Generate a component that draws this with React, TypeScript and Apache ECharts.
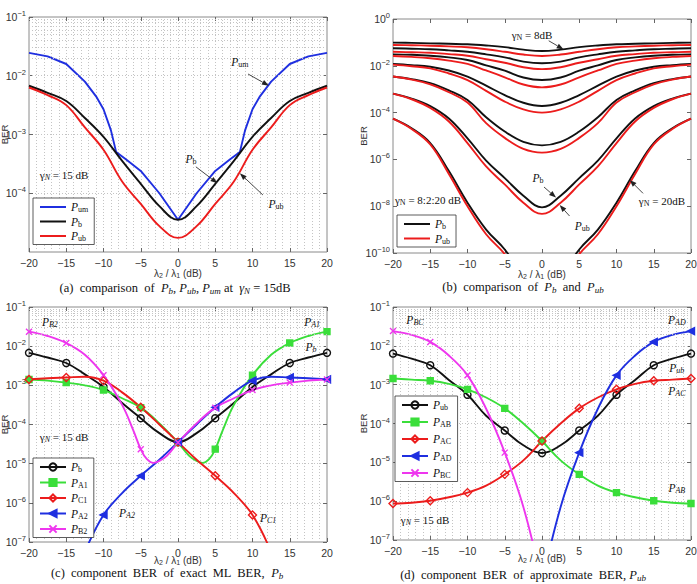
import React, { useEffect, useRef } from "react";
import * as echarts from "echarts";

// λ2/λ1 sample points in dB
const X_DB = [-20, -17.5, -15, -12.5, -10, -7.5, -5, -2.5, 0, 2.5, 5, 7.5, 10, 12.5, 15, 17.5, 20];

// All BER values below are given as log10(BER)

// (a) γN = 15 dB
const LOG_PB = [-2.17, -2.29, -2.43, -2.72, -3.04, -3.45, -3.84, -4.22, -4.45, -4.22, -3.84, -3.45, -3.04, -2.72, -2.43, -2.29, -2.17];
const LOG_PUB = [-2.2, -2.33, -2.5, -2.88, -3.26, -3.8, -4.18, -4.56, -4.76, -4.56, -4.18, -3.8, -3.26, -2.88, -2.5, -2.33, -2.2];
const X_UM = [-20, -17.5, -15, -12.5, -11, -10, -9, -8.3, -7, -5, -2.5, 0, 2.5, 5, 7, 8.3, 9, 10, 11, 12.5, 15, 17.5, 20];
const LOG_PUM = [-1.61, -1.67, -1.8, -2.1, -2.35, -2.57, -2.93, -3.3, -3.42, -3.62, -4.0, -4.45, -4.0, -3.62, -3.42, -3.3, -2.93, -2.57, -2.35, -2.1, -1.8, -1.67, -1.61];

// (b) γN = 8:2:20 dB, exact (Pb) and union bound (Pub)
const SNR_DB = [8, 10, 12, 14, 16, 18, 20];
const LOG_B_PB = [
  [-1.01, -1.02, -1.04, -1.06, -1.08, -1.13, -1.2, -1.31, -1.37, -1.31, -1.2, -1.13, -1.08, -1.06, -1.04, -1.02, -1.01],
  [-1.25, -1.27, -1.29, -1.34, -1.4, -1.51, -1.64, -1.82, -1.89, -1.82, -1.64, -1.51, -1.4, -1.34, -1.29, -1.27, -1.25],
  [-1.51, -1.53, -1.57, -1.64, -1.75, -1.98, -2.21, -2.5, -2.61, -2.5, -2.21, -1.98, -1.75, -1.64, -1.57, -1.53, -1.51],
  [-1.92, -1.97, -2.04, -2.2, -2.46, -2.85, -3.25, -3.58, -3.72, -3.58, -3.25, -2.85, -2.46, -2.2, -2.04, -1.97, -1.92],
  [-2.46, -2.57, -2.74, -3.05, -3.46, -4.2, -4.81, -5.25, -5.4, -5.25, -4.81, -4.2, -3.46, -3.05, -2.74, -2.57, -2.46],
  [-3.19, -3.4, -3.72, -4.25, -5.1, -6.05, -6.8, -7.55, -8.05, -7.55, -6.8, -6.05, -5.1, -4.25, -3.72, -3.4, -3.19],
  [-4.26, -4.67, -5.3, -6.5, -7.85, -9.0, -9.85, -11.0, -12.0, -11.0, -9.85, -9.0, -7.85, -6.5, -5.3, -4.67, -4.26],
];
const LOG_B_PUB = [
  [-1.11, -1.12, -1.14, -1.17, -1.21, -1.29, -1.4, -1.52, -1.58, -1.52, -1.4, -1.29, -1.21, -1.17, -1.14, -1.12, -1.11],
  [-1.4, -1.42, -1.44, -1.5, -1.57, -1.72, -1.87, -2.06, -2.14, -2.06, -1.87, -1.72, -1.57, -1.5, -1.44, -1.42, -1.4],
  [-1.58, -1.62, -1.68, -1.78, -1.92, -2.2, -2.49, -2.8, -2.92, -2.8, -2.49, -2.2, -1.92, -1.78, -1.68, -1.62, -1.58],
  [-1.95, -2.02, -2.11, -2.33, -2.61, -3.07, -3.53, -3.86, -4.0, -3.86, -3.53, -3.07, -2.61, -2.33, -2.11, -2.02, -1.95],
  [-2.46, -2.59, -2.79, -3.13, -3.57, -4.45, -5.08, -5.55, -5.71, -5.55, -5.08, -4.45, -3.57, -3.13, -2.79, -2.59, -2.46],
  [-3.19, -3.43, -3.8, -4.38, -5.3, -6.3, -7.07, -7.85, -8.33, -7.85, -7.07, -6.3, -5.3, -4.38, -3.8, -3.43, -3.19],
  [-4.26, -4.7, -5.36, -6.62, -8.0, -9.2, -10.05, -11.2, -12.2, -11.2, -10.05, -9.2, -8.0, -6.62, -5.36, -4.7, -4.26],
];

// (c) components of the exact ML BER
const X_A1 = [-20, -17.5, -15, -12.5, -10, -7.5, -5, -2.5, 0, 1.5, 2.5, 3.3, 4.2, 5, 6, 7.5, 10, 12.5, 15, 17.5, 20];
const LOG_PA1 = [-2.85, -2.88, -2.93, -3.0, -3.12, -3.33, -3.57, -3.97, -4.46, -4.8, -4.93, -4.98, -4.88, -4.63, -4.15, -3.5, -2.74, -2.22, -1.92, -1.74, -1.63];
const X_B2 = [-20, -17.5, -15, -12.5, -10, -7.5, -6, -5, -4.2, -3.3, -2.5, -1.5, 0, 2.5, 5, 7.5, 10, 12.5, 15, 17.5, 20];
const LOG_PB2 = [-1.63, -1.74, -1.92, -2.22, -2.74, -3.5, -4.15, -4.63, -4.88, -4.98, -4.93, -4.8, -4.46, -3.97, -3.57, -3.33, -3.12, -3.0, -2.93, -2.88, -2.85];
const LOG_PC1 = [-2.85, -2.82, -2.8, -2.78, -2.88, -3.18, -3.56, -4.0, -4.45, -4.9, -5.31, -5.75, -6.31, -7.25, -8.5, -10.0, -11.5];
const LOG_PA2 = [-11.5, -10.0, -8.5, -7.25, -6.31, -5.75, -5.31, -4.9, -4.45, -4.0, -3.56, -3.18, -2.88, -2.78, -2.8, -2.82, -2.85];

// (d) components of the approximate BER
const LOG_PAB = [-2.84, -2.87, -2.9, -2.98, -3.12, -3.33, -3.61, -4.0, -4.45, -4.95, -5.31, -5.6, -5.78, -5.9, -5.99, -6.04, -6.06];
const LOG_PAC = [-6.06, -6.04, -5.99, -5.9, -5.78, -5.6, -5.31, -4.95, -4.45, -4.0, -3.61, -3.33, -3.12, -2.98, -2.9, -2.87, -2.84];
const X_AD = [-2.5, 0, 2.5, 5, 7.5, 10, 12.5, 15, 17.5, 20];
const LOG_PAD = [-10.5, -8.1, -6.15, -4.75, -3.62, -2.76, -2.25, -1.9, -1.72, -1.62];
const X_BC = [-20, -17.5, -15, -12.5, -10, -7.5, -5, -2.5, 0, 2.5];
const LOG_PBC = [-1.62, -1.72, -1.9, -2.25, -2.76, -3.62, -4.75, -6.15, -8.1, -10.5];

// y-axis decades (log10) per panel and the labelled decades
const Y_RANGE: [number, number][] = [[-5, -1], [-10, 0], [-7, -1], [-7, -1]];
const Y_LABEL_EXP = [[-4, -3, -2, -1], [-10, -8, -6, -4, -2, 0], [-7, -6, -5, -4, -3, -2, -1], [-7, -6, -5, -4, -3, -2, -1]];

const SERIF = "'Liberation Serif', 'DejaVu Serif', serif";
const SANS = "'Liberation Sans', Arial, Helvetica, sans-serif";

const BLUE = "#1f2fe0";
const RED = "#ec1c1c";
const BLACK = "#111111";
const GREEN = "#3ade3a";
const MAGENTA = "#ee36ee";

const GRIDS = [
  { left: 29, top: 17, width: 298, height: 235 },
  { left: 393, top: 19, width: 298, height: 234 },
  { left: 29, top: 307, width: 298, height: 235 },
  { left: 393, top: 307, width: 298, height: 233 },
];

const RICH: Record<string, any> = {
  p: { fontFamily: SERIF, fontStyle: "italic", fontSize: 11.5, color: "#111" },
  s: { fontFamily: SERIF, fontSize: 8, color: "#111", padding: [5, 0, 0, 0] },
  si: { fontFamily: SERIF, fontStyle: "italic", fontSize: 8, color: "#111", padding: [5, 0, 0, 0] },
  t: { fontFamily: SERIF, fontSize: 11, color: "#111" },
  g: { fontFamily: SERIF, fontSize: 11, color: "#111" },
  c: { fontFamily: SERIF, fontSize: 12.5, color: "#111" },
  cp: { fontFamily: SERIF, fontStyle: "italic", fontSize: 12.5, color: "#111" },
  cs: { fontFamily: SERIF, fontStyle: "italic", fontSize: 9, color: "#111", padding: [6, 0, 0, 0] },
};

const LEGEND_TEXT: Record<string, string> = {
  a_um: "{p|P}{s|um}", a_b: "{p|P}{s|b}", a_ub: "{p|P}{s|ub}",
  b_b: "{p|P}{s|b}", b_ub: "{p|P}{s|ub}",
  c_b: "{p|P}{s|b}", c_a1: "{p|P}{s|A1}", c_c1: "{p|P}{s|C1}", c_a2: "{p|P}{s|A2}", c_b2: "{p|P}{s|B2}",
  d_ub: "{p|P}{s|ub}", d_ab: "{p|P}{s|AB}", d_ac: "{p|P}{s|AC}", d_ad: "{p|P}{s|AD}", d_bc: "{p|P}{s|BC}",
};

type Marker = { symbol: string; size: number; rotate?: number; fill: boolean };

function curve(name: string, g: number, xs: number[], logs: number[], color: string, mk?: Marker, smooth: number | boolean = 0.4) {
  const data = xs.map((x, i) => {
    const pt: any = { value: [x, Math.pow(10, logs[i])] };
    if (mk && x % 5 !== 0) pt.symbol = "none";
    return pt;
  });
  return {
    type: "line",
    name,
    xAxisIndex: g,
    yAxisIndex: g,
    data,
    smooth,
    symbol: mk ? mk.symbol : "none",
    symbolSize: mk ? mk.size : 0,
    symbolRotate: mk && mk.rotate ? mk.rotate : 0,
    showSymbol: !!mk,
    showAllSymbol: true,
    clip: true,
    z: 3,
    lineStyle: { color, width: 1.9 },
    itemStyle: { color: mk && mk.fill ? color : "rgba(255,255,255,0)", borderColor: color, borderWidth: 1.4 },
    emphasis: { disabled: true },
  };
}

// dotted log-minor gridlines (2..9 in each decade)
function minorGrid(g: number) {
  const [lo, hi] = Y_RANGE[g];
  const lines: any[] = [];
  for (let e = lo; e < hi; e++) for (let m = 2; m <= 9; m++) lines.push({ yAxis: m * Math.pow(10, e) });
  return {
    type: "line",
    xAxisIndex: g,
    yAxisIndex: g,
    data: [],
    silent: true,
    z: 1,
    markLine: {
      silent: true,
      symbol: ["none", "none"],
      label: { show: false },
      lineStyle: { color: "#c4c4c4", type: [1, 2], width: 1 },
      emphasis: { disabled: true },
      animation: false,
      data: lines,
    },
  };
}

const expLabel = (v: number) => {
  const e = Math.round(Math.log10(v));
  return `{b|10}{e|${e < 0 ? "\u2212" + -e : e}}`;
};
const xLabel = (v: number) => (v < 0 ? "\u2212" + -v : String(v));

// line-only legend entries: hide the symbol the legend would otherwise draw
const plain = (name: string) => ({
  name,
  itemStyle: { color: "rgba(0,0,0,0)", borderColor: "rgba(0,0,0,0)", borderWidth: 0 },
});

function buildOption() {
  const hasGrid = [true, false, true, true];
  const dotted = { color: "#c4c4c4", type: [1, 2], width: 1 };
  const tick = { show: true, inside: true, length: 4, lineStyle: { color: "#666" } };
  const xAxes: any[] = [];
  const yAxes: any[] = [];
  for (let g = 0; g < 4; g++) {
    xAxes.push({
      type: "value",
      gridIndex: g,
      min: -20,
      max: 20,
      interval: 5,
      axisLine: { show: false, onZero: false },
      axisTick: tick,
      axisLabel: { fontFamily: SANS, fontSize: 10.5, color: "#333", margin: 5, formatter: xLabel },
      splitLine: { show: hasGrid[g], lineStyle: dotted },
      minorTick: { show: false, splitNumber: 5 },
      minorSplitLine: { show: hasGrid[g], lineStyle: dotted },
      name: "{n|\u03bb}{sb|2}{n| / \u03bb}{sb|1}{n| (dB)}",
      nameLocation: "middle",
      nameGap: g < 2 ? 16 : 13,
      nameMoveOverlap: false,
      nameTextStyle: {
        rich: {
          n: { fontFamily: SANS, fontSize: 10, color: "#333" },
          sb: { fontFamily: SANS, fontSize: 7, color: "#333", padding: [4, 0, 0, 0] },
        },
      },
    });
    const custom = Y_LABEL_EXP[g].map((e) => Math.pow(10, e));
    yAxes.push({
      type: "log",
      logBase: 10,
      gridIndex: g,
      position: "left",
      min: Math.pow(10, Y_RANGE[g][0]),
      max: Math.pow(10, Y_RANGE[g][1]),
      axisLine: { show: false, onZero: false },
      axisTick: { ...tick, customValues: custom },
      axisLabel: {
        customValues: custom,
        formatter: expLabel,
        margin: 3,
        rich: {
          b: { fontFamily: SANS, fontSize: 10.5, color: "#333" },
          e: { fontFamily: SANS, fontSize: 7.5, color: "#333", padding: [0, 0, 7, 0] },
        },
      },
      splitLine: { show: hasGrid[g], lineStyle: dotted },
      name: "BER",
      nameLocation: "middle",
      nameGap: g % 2 === 0 ? 19.5 : 25,
      nameRotate: 90,
      nameMoveOverlap: false,
      nameTextStyle: { fontFamily: SANS, fontSize: 9.5, color: "#333" },
    });
  }
  // box ticks on top and right edges
  for (let g = 0; g < 4; g++) {
    xAxes.push({
      type: "value",
      gridIndex: g,
      position: "top",
      min: -20,
      max: 20,
      interval: 5,
      axisLine: { show: false, onZero: false },
      axisTick: tick,
      axisLabel: { show: false },
      splitLine: { show: false },
    });
    const custom = Y_LABEL_EXP[g].map((e) => Math.pow(10, e));
    yAxes.push({
      type: "log",
      logBase: 10,
      gridIndex: g,
      position: "right",
      min: Math.pow(10, Y_RANGE[g][0]),
      max: Math.pow(10, Y_RANGE[g][1]),
      axisLine: { show: false, onZero: false },
      axisTick: { ...tick, customValues: custom },
      axisLabel: { show: false, customValues: custom },
      splitLine: { show: false },
    });
  }

  const series: any[] = [minorGrid(0), minorGrid(2), minorGrid(3)];

  // (a)
  series.push(curve("a_um", 0, X_UM, LOG_PUM, BLUE, undefined, false));
  series.push(curve("a_b", 0, X_DB, LOG_PB, BLACK));
  series.push(curve("a_ub", 0, X_DB, LOG_PUB, RED));

  // (b)
  SNR_DB.forEach((_, k) => {
    series.push(curve("b_b", 1, X_DB, LOG_B_PB[k], BLACK));
    series.push(curve("b_ub", 1, X_DB, LOG_B_PUB[k], RED));
  });

  // (c)
  const circle: Marker = { symbol: "circle", size: 7, fill: false };
  const square: Marker = { symbol: "rect", size: 6, fill: true };
  const diamond: Marker = { symbol: "diamond", size: 8, fill: false };
  const triLeft: Marker = { symbol: "triangle", size: 7, rotate: 90, fill: true };
  const cross: Marker = { symbol: "path://M0,0L10,10M10,0L0,10", size: 6, fill: false };
  series.push(curve("c_b", 2, X_DB, LOG_PB, BLACK, circle));
  series.push(curve("c_a1", 2, X_A1, LOG_PA1, GREEN, square));
  series.push(curve("c_c1", 2, X_DB, LOG_PC1, RED, diamond));
  series.push(curve("c_a2", 2, X_DB, LOG_PA2, BLUE, triLeft));
  series.push(curve("c_b2", 2, X_B2, LOG_PB2, MAGENTA, cross));

  // (d)
  series.push(curve("d_ub", 3, X_DB, LOG_PUB, BLACK, circle));
  series.push(curve("d_ab", 3, X_DB, LOG_PAB, GREEN, square));
  series.push(curve("d_ac", 3, X_DB, LOG_PAC, RED, diamond));
  series.push(curve("d_ad", 3, X_AD, LOG_PAD, BLUE, triLeft));
  series.push(curve("d_bc", 3, X_BC, LOG_PBC, MAGENTA, cross));

  const legendBase = {
    orient: "vertical",
    selectedMode: false,
    backgroundColor: "#fff",
    borderColor: "#333",
    borderWidth: 0.8,
    borderRadius: 0,
    itemWidth: 26,
    itemHeight: 9,
    padding: [3, 6, 2, 6],
    textStyle: { rich: RICH },
    formatter: (n: string) => LEGEND_TEXT[n] || n,
    z: 10,
  };

  return {
    animation: false,
    backgroundColor: "#fff",
    grid: GRIDS.map((gr) => ({
      ...gr,
      show: true,
      borderColor: "#8a8a8a",
      borderWidth: 1,
      backgroundColor: "transparent",
      containLabel: false,
      outerBoundsMode: "none",
    })),
    xAxis: xAxes,
    yAxis: yAxes,
    legend: [
      { ...legendBase, data: ["a_um", "a_b", "a_ub"].map(plain), left: 33, top: 198, itemGap: 2 },
      { ...legendBase, data: ["b_b", "b_ub"].map(plain), left: 397, top: 215, itemGap: 2 },
      { ...legendBase, data: ["c_b", "c_a1", "c_c1", "c_a2", "c_b2"], left: 33, top: 458, itemGap: 3 },
      { ...legendBase, data: ["d_ub", "d_ab", "d_ac", "d_ad", "d_bc"], left: 395, top: 396, itemGap: 4.5 },
    ],
    series,
  };
}

// text labels placed at [λ2/λ1 dB, log10 BER]
const NOTES = [
  { g: 0, at: [8.3, -1.77], text: "{p|P}{s|um}" },
  { g: 0, at: [1.75, -3.42], text: "{p|P}{s|b}" },
  { g: 0, at: [13.15, -4.18], text: "{p|P}{s|ub}" },
  { g: 0, at: [-15.3, -3.69], text: "{g|\u03b3}{si|N}{t| = 15 dB}" },
  { g: 1, at: [-1.34, -0.68], text: "{g|\u03b3}{s|N}{t| = 8dB}" },
  { g: 1, at: [-15.3, -7.74], text: "{g|\u03b3}{s|N}{t| = 8:2:20 dB}" },
  { g: 1, at: [-0.54, -6.79], text: "{p|P}{s|b}" },
  { g: 1, at: [5.4, -8.85], text: "{p|P}{s|ub}" },
  { g: 1, at: [16.1, -7.76], text: "{g|\u03b3}{s|N}{t| = 20dB}" },
  { g: 2, at: [-17.2, -1.38], text: "{p|P}{si|B2}" },
  { g: 2, at: [18.0, -1.38], text: "{p|P}{si|A1}" },
  { g: 2, at: [17.85, -2.02], text: "{p|P}{si|b}" },
  { g: 2, at: [-15.3, -4.32], text: "{g|\u03b3}{si|N}{t| = 15 dB}" },
  { g: 2, at: [-6.85, -6.26], text: "{p|P}{si|A2}" },
  { g: 2, at: [12.1, -6.39], text: "{p|P}{si|C1}" },
  { g: 3, at: [-17.05, -1.33], text: "{p|P}{si|BC}" },
  { g: 3, at: [18.1, -1.33], text: "{p|P}{si|AD}" },
  { g: 3, at: [18.1, -2.57], text: "{p|P}{si|ub}" },
  { g: 3, at: [18.1, -3.16], text: "{p|P}{si|AC}" },
  { g: 3, at: [18.1, -5.66], text: "{p|P}{si|AB}" },
  { g: 3, at: [-15.7, -6.49], text: "{g|\u03b3}{si|N}{t| = 15 dB}" },
];

const ARROWS = [
  { g: 0, from: [9.4, -1.97], to: [12.2, -2.17] },
  { g: 0, from: [2.4, -3.55], to: [5.3, -3.83] },
  { g: 0, from: [11.4, -4.03], to: [8.3, -3.66] },
  { g: 1, from: [0.9, -0.93], to: [2.9, -1.3] },
  { g: 1, from: [0.27, -7.18], to: [1.88, -7.63] },
  { g: 1, from: [3.7, -8.42], to: [2.37, -7.95] },
  { g: 1, from: [13.56, -7.45], to: [11.77, -6.88] },
];

const CAPTIONS = [
  { x: 175, y: 288, text: "{c|(a)  comparison  of  }{cp|P}{cs|b}{c|, }{cp|P}{cs|ub}{c|, }{cp|P}{cs|um}{c| at  }{cp|\u03b3}{cs|N}{c| = 15dB}" },
  { x: 523, y: 287, text: "{c|(b)  comparison  of  }{cp|P}{cs|b}{c|  and  }{cp|P}{cs|ub}" },
  { x: 167, y: 573, text: "{c|(c)  component  BER  of  exact  ML  BER,  }{cp|P}{cs|b}" },
  { x: 523, y: 575, text: "{c|(d)  component  BER  of  approximate  BER, }{cp|P}{cs|ub}" },
];

function buildGraphics(chart: echarts.ECharts) {
  const px = (g: number, p: number[]) =>
    chart.convertToPixel({ xAxisIndex: g, yAxisIndex: g } as any, [p[0], Math.pow(10, p[1])]) as number[];
  const els: any[] = [];
  NOTES.forEach((n) => {
    const [x, y] = px(n.g, n.at);
    els.push({
      type: "text",
      x,
      y,
      z: 20,
      silent: true,
      style: { text: n.text, rich: RICH, align: "center", verticalAlign: "middle", fill: "#111" },
    });
  });
  ARROWS.forEach((a) => {
    const [x1, y1] = px(a.g, a.from);
    const [x2, y2] = px(a.g, a.to);
    const dx = x2 - x1;
    const dy = y2 - y1;
    const len = Math.hypot(dx, dy) || 1;
    const ux = dx / len;
    const uy = dy / len;
    const hl = 7;
    const hw = 2.6;
    const bx = x2 - ux * hl;
    const by = y2 - uy * hl;
    els.push({
      type: "line",
      z: 20,
      silent: true,
      shape: { x1, y1, x2: bx, y2: by },
      style: { stroke: "#333", lineWidth: 0.9 },
    });
    els.push({
      type: "polygon",
      z: 20,
      silent: true,
      shape: { points: [[x2, y2], [bx - uy * hw, by + ux * hw], [bx + uy * hw, by - ux * hw]] },
      style: { fill: "#222" },
    });
  });
  CAPTIONS.forEach((c) => {
    els.push({
      type: "text",
      x: c.x,
      y: c.y,
      z: 20,
      silent: true,
      style: { text: c.text, rich: RICH, align: "center", verticalAlign: "middle", fill: "#111" },
    });
  });
  return els;
}

export default function App() {
  const ref = useRef<HTMLDivElement>(null);
  useEffect(() => {
    if (!ref.current) return;
    const chart = echarts.init(ref.current, null, { renderer: "svg" });
    chart.setOption(buildOption() as any);
    chart.setOption({ graphic: buildGraphics(chart) } as any);
    return () => chart.dispose();
  }, []);
  return (
    <div
      ref={ref}
      style={{ position: "fixed", left: 0, top: 0, width: 697, height: 584, background: "#fff" }}
    />
  );
}
